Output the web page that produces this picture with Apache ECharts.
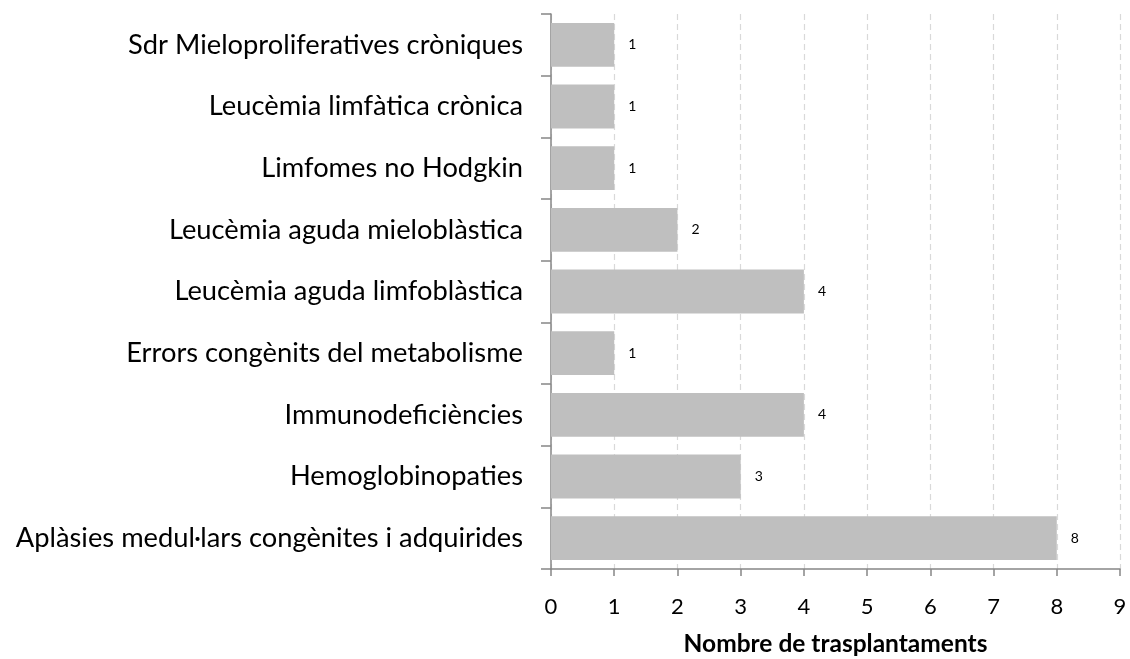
<!DOCTYPE html>
<html>
<head>
<meta charset="utf-8">
<script src="https://cdn.jsdelivr.net/npm/echarts@6/dist/echarts.min.js"></script>
<style>
  html, body { margin: 0; padding: 0; background: #fff; }
  #chart { width: 1130px; height: 659px; }
</style>
</head>
<body>
<div id="chart"></div>
<script>
  // categories bottom to top
  let categories = [
    'Aplàsies medul·lars congènites i adquirides',
    'Hemoglobinopaties',
    'Immunodeficiències',
    'Errors congènits del metabolisme',
    'Leucèmia aguda limfoblàstica',
    'Leucèmia aguda mieloblàstica',
    'Limfomes no Hodgkin',
    'Leucèmia limfàtica crònica',
    'Sdr Mieloproliferatives cròniques'
  ]
  let values = [8, 3, 4, 1, 4, 2, 1, 1, 1]
  let axisTitle = 'Nombre de trasplantaments'

  let font = 'Lato, "Open Sans", sans-serif'
  let myChart = echarts.init(document.getElementById('chart'))
  let option = {
    animation: false,
    textStyle: {fontFamily: font},
    grid: {left: 551, right: 10, top: 14, bottom: 90, outerBoundsMode: 'none'},
    xAxis: {
      type: 'value',
      min: 0,
      max: 9,
      interval: 1,
      name: axisTitle,
      nameLocation: 'middle',
      nameGap: 63,
      nameTextStyle: {fontFamily: font, fontSize: 24.5, fontWeight: 'bold', color: '#000'},
      axisLine: {show: true, lineStyle: {color: '#868686', width: 1.5}},
      axisTick: {show: true, length: 7, lineStyle: {color: '#868686', width: 1.5}},
      axisLabel: {margin: 27, fontSize: 22, color: '#000', fontFamily: font},
      splitLine: {show: true, lineStyle: {color: '#d9d9d9', type: [6, 4], width: 1.2}}
    },
    yAxis: {
      type: 'category',
      data: categories,
      axisLine: {show: true, lineStyle: {color: '#868686', width: 1.5}},
      axisTick: {show: true, length: 10, lineStyle: {color: '#868686', width: 1.5}},
      axisLabel: {margin: 28, fontSize: 27.3, color: '#000', fontFamily: font}
    },
    series: [
      {
        type: 'bar',
        data: values,
        barWidth: '71%',
        itemStyle: {color: '#bfbfbf'},
        label: {
          show: true,
          position: 'right',
          distance: 14,
          fontSize: 14,
          color: '#000',
          fontFamily: font
        }
      }
    ]
  }
  myChart.setOption(option)
</script>
</body>
</html>
